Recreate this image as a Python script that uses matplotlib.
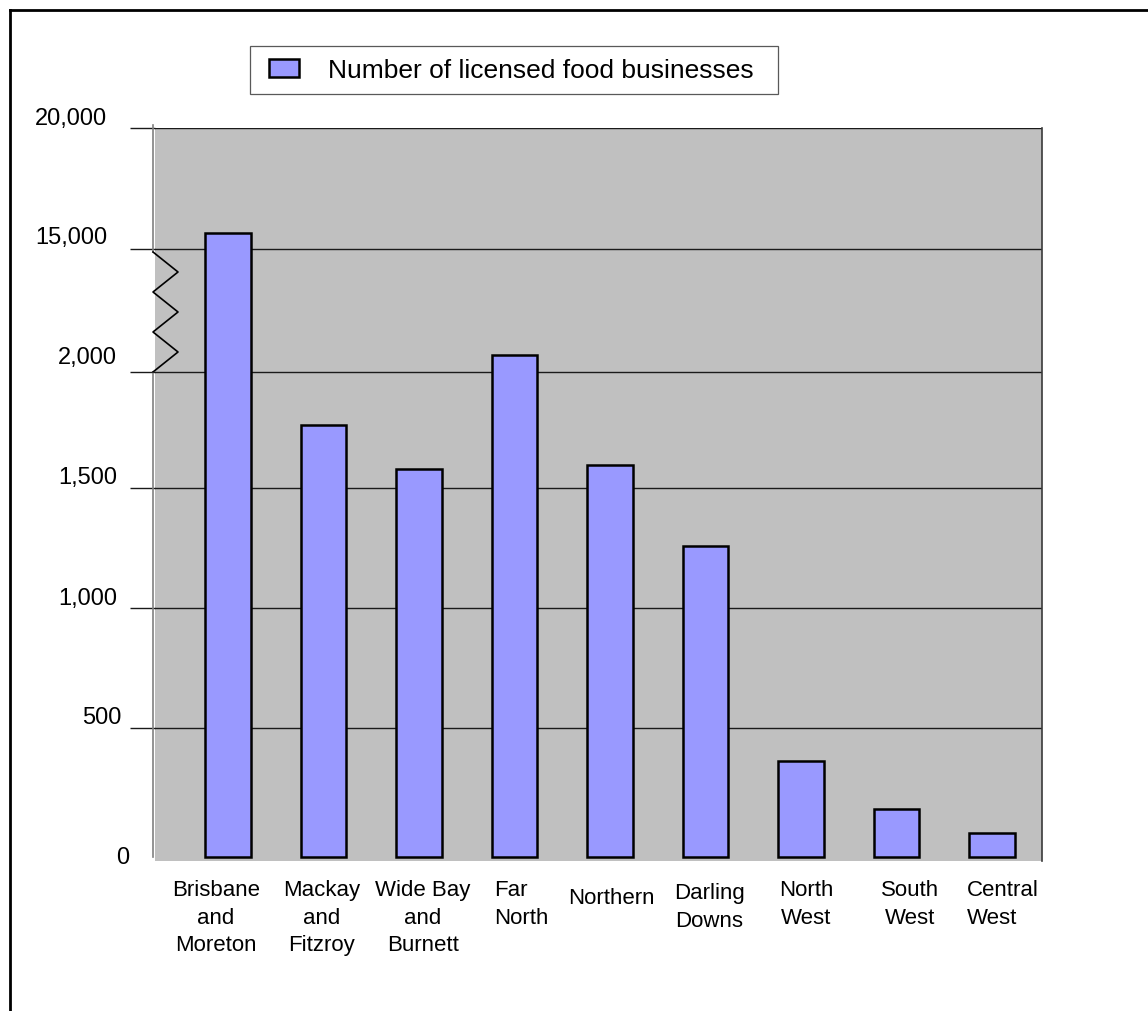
import numpy as np
import matplotlib
matplotlib.use("Agg")
import matplotlib.pyplot as plt
from matplotlib.lines import Line2D
from matplotlib.patches import Rectangle, Patch
from matplotlib.legend_handler import HandlerPatch
from matplotlib.transforms import ScaledTranslation

plt.rcParams['font.family'] = ['Liberation Sans', 'DejaVu Sans']

# ---------------- data ----------------
categories = ["Brisbane\nand\nMoreton", "Mackay\nand\nFitzroy", "Wide Bay\nand\nBurnett",
              "Far\nNorth", "Northern", "Darling\nDowns", "North\nWest", "South\nWest",
              "Central\nWest"]
values = [15660, 1770, 1580, 2075, 1600, 1260, 372, 186, 93]
series_name = "Number of licensed food businesses"
tick_values = [0, 500, 1000, 1500, 2000, 15000, 20000]
tick_labels = ["0", "500", "1,000", "1,500", "2,000", "15,000", "20,000"]

# broken (piecewise linear) value axis: value knots -> position knots
scale_vals = [-500, 0, 500, 1000, 1500, 2000, 2400, 15000, 20000]
scale_pos = [-129, 0, 129, 249, 369, 485, 578, 608, 729]


def fwd(v):
    return np.interp(v, scale_vals, scale_pos)


def inv(p):
    return np.interp(p, scale_pos, scale_vals)


W, H = 1148, 1012
DPI = 100
fig = plt.figure(figsize=(W / DPI, H / DPI), dpi=DPI)
fig.patch.set_facecolor('white')

ax_l, ax_r, ax_t, ax_b = 155, 1042, 129, 862
ax = fig.add_axes([ax_l / W, 1 - ax_b / H, (ax_r - ax_l) / W, (ax_b - ax_t) / H])
ax.set_facecolor('#c0c0c0')
ax.set_yscale('function', functions=(fwd, inv))

x = np.arange(len(categories))
ax.bar(x, values, width=0.48, color='#9999ff', edgecolor='black', linewidth=1.8,
       zorder=3, label=series_name)

ax.set_xlim(-0.764, 8.524)
ax.set_ylim(float(inv(-4)), 20000)

# spines
for s in ['top', 'bottom', 'left']:
    ax.spines[s].set_visible(False)
ax.spines['right'].set_color('#3a3a3a')
ax.spines['right'].set_linewidth(1.2)

# y ticks / grid
ax.set_yticks(tick_values)
ax.set_yticklabels(tick_labels)
ax.yaxis.grid(True, color='#1a1a1a', linewidth=1.0, zorder=1)
ax.set_axisbelow(True)
ax.tick_params(axis='y', direction='out', length=18, width=1.0, color='#1a1a1a',
               pad=0, labelsize=17)
yticks = ax.yaxis.get_major_ticks()
yticks[0].tick1line.set_visible(False)
yticks[0].gridline.set_visible(False)

# per-label offsets (px): right-edge shift, upward shift
dx_px = [-1, -9, -13, -13, -13, -23, -23]
dy_px = [0, 10.5, 10, 10.5, 14.5, 11.5, 10]
for lab, dx, dy in zip(ax.get_yticklabels(), dx_px, dy_px):
    lab.set_verticalalignment('center')
    lab.set_transform(lab.get_transform() + ScaledTranslation(dx / DPI, dy / DPI, fig.dpi_scale_trans))

# x ticks
ax.set_xticks(x)
ax.set_xticklabels(categories, fontsize=16, linespacing=1.42)
ax.tick_params(axis='x', length=0, pad=13)
xdx = [-12, -2, 4, 7, 1, 4, 5, 14, 11]
xdy = [0, 0, 0, 0, -8, -3, 0, 0, 0]
for i, (lab, dx, dy) in enumerate(zip(ax.get_xticklabels(), xdx, xdy)):
    lab.set_multialignment('left' if i in (3, 8) else 'center')
    lab.set_transform(lab.get_transform() + ScaledTranslation(dx / DPI, dy / DPI, fig.dpi_scale_trans))

# left value-axis line with break
xa = -2.5 / (ax_r - ax_l)


def ay(py):
    return (ax_b - py) / (ax_b - ax_t)


ax.plot([xa, xa], [ay(126), ay(253)], transform=ax.transAxes, color='#808080', lw=1.2, clip_on=False, zorder=4)
ax.plot([xa, xa], [ay(373), ay(858)], transform=ax.transAxes, color='#808080', lw=1.2, clip_on=False, zorder=4)
zz_px = [153, 178, 153, 178, 153, 178, 153]
zz_py = [253, 273, 293, 313, 333, 353, 373]
ax.plot([(p - ax_l) / (ax_r - ax_l) for p in zz_px], [ay(p) for p in zz_py],
        transform=ax.transAxes, color='black', lw=1.2, clip_on=False, zorder=4)

# legend
fs_leg = 19


def make_patch(legend, orig_handle, xdescent, ydescent, width, height, fontsize):
    off = 7 * 72 / DPI
    return Rectangle((-xdescent + off, -ydescent), width - off, height)


handle = Patch(facecolor='#9999ff', edgecolor='black', linewidth=1.8)
leg = fig.legend([handle], [series_name], loc='center', mode='expand',
                 bbox_to_anchor=(250 / W, 1 - 100 / H, 528 / W, 58 / H),
                 fontsize=fs_leg, frameon=True, fancybox=False, shadow=False,
                 borderpad=0.45, borderaxespad=0, handlelength=1.4, handleheight=0.7,
                 handletextpad=1.1, handler_map={Patch: HandlerPatch(patch_func=make_patch)})
leg.get_frame().set_edgecolor('#303030')
leg.get_frame().set_linewidth(0.9)

# outer frame (left and top edges visible)
fig.add_artist(Line2D([10 / W, 10 / W], [0, 1 - 11 / H], transform=fig.transFigure, color='black', lw=2))
fig.add_artist(Line2D([10 / W, 1], [1 - 11 / H, 1 - 11 / H], transform=fig.transFigure, color='black', lw=2))

fig.savefig('out.png', dpi=DPI, facecolor='white')
